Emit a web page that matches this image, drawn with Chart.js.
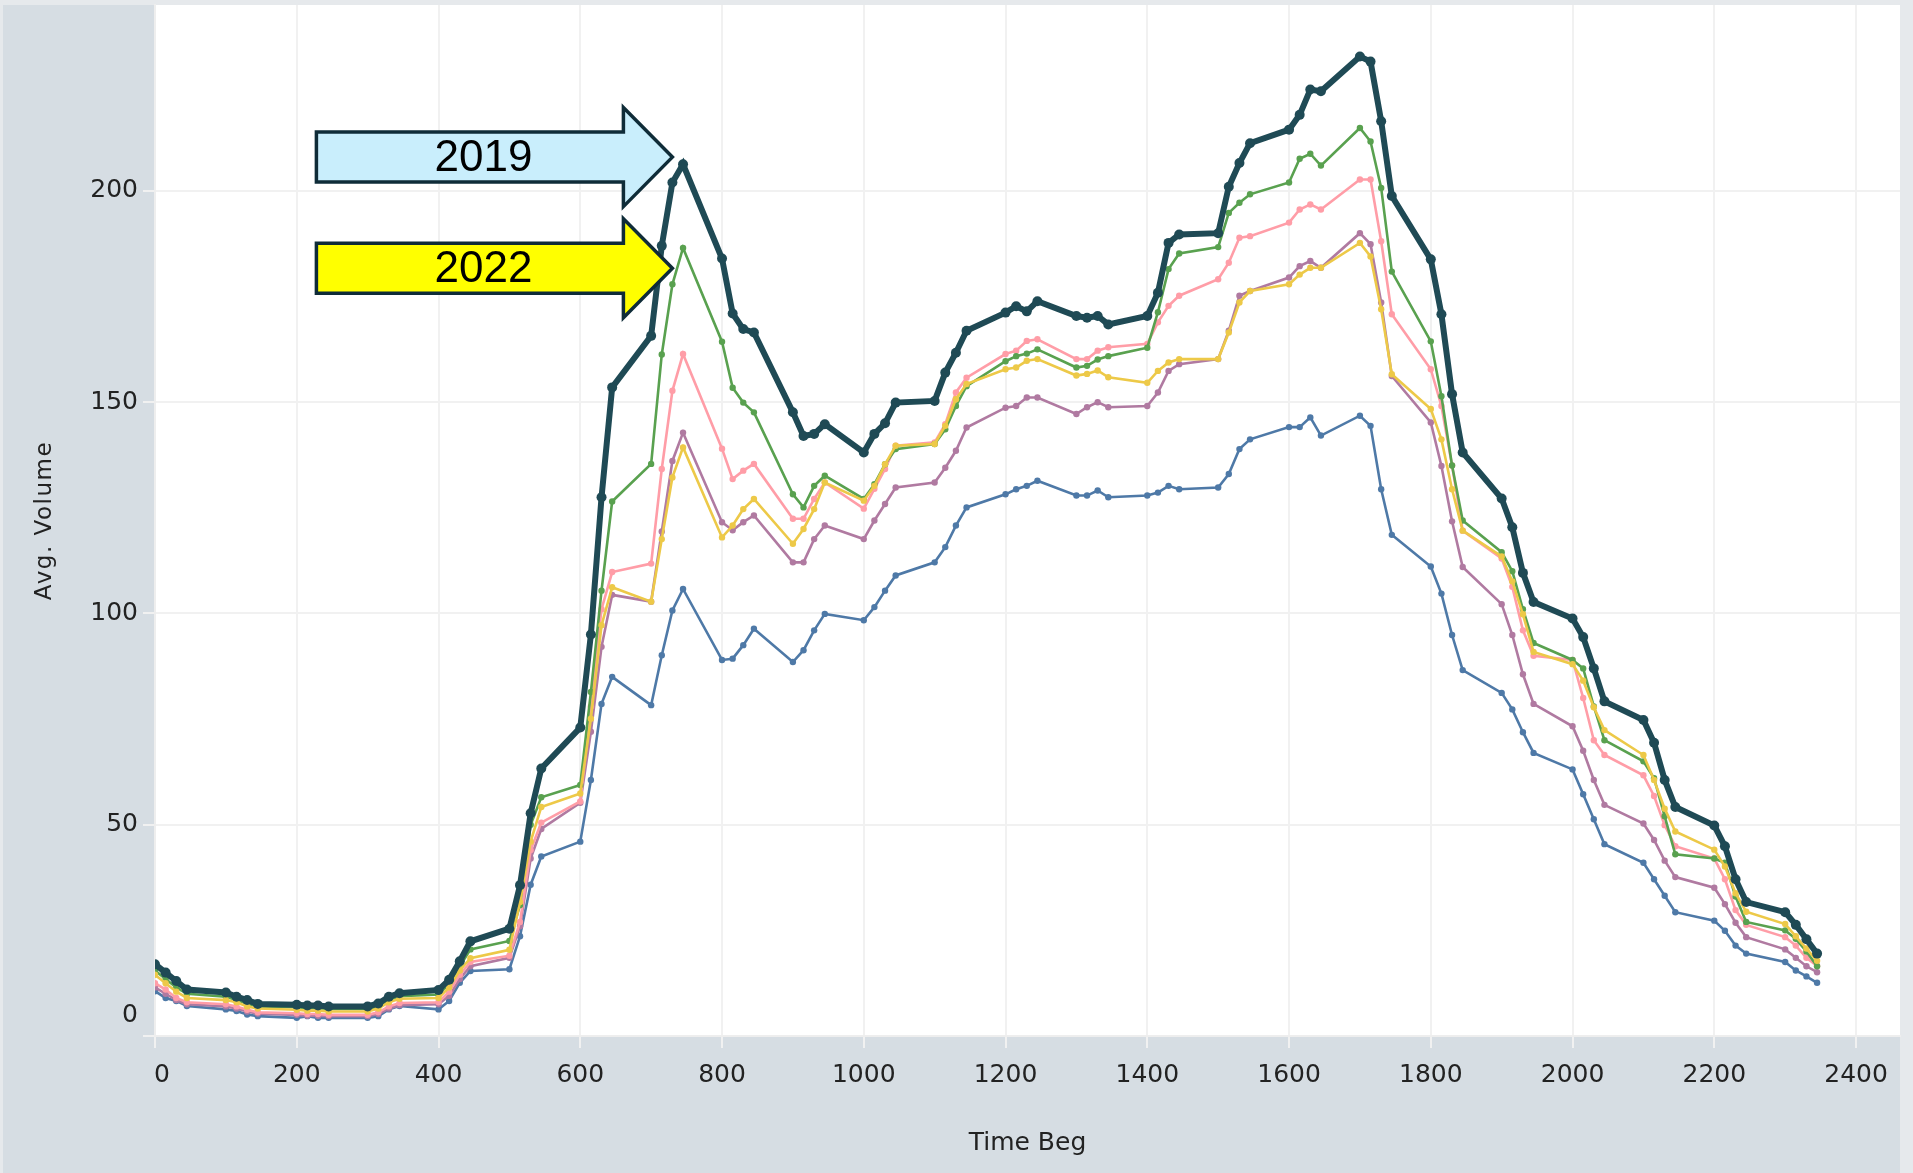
<!DOCTYPE html>
<html>
<head>
<meta charset="utf-8">
<script src="https://cdn.jsdelivr.net/npm/chart.js@4.4.1/dist/chart.umd.min.js"></script>
<style>
html,body{margin:0;padding:0;background:#d6dde3;overflow:hidden;}
#wrap{width:1913px;height:1173px;position:relative;}
canvas{display:block;}
</style>
</head>
<body>
<div id="wrap"><canvas id="c" width="1913" height="1173"></canvas></div>
<script>
// ---- data ----
const timeBeg = [0,15,30,45, 100,115,130,145, 200,215,230,245, 300,315,330,345, 400,415,430,445, 500,515,530,545,
  600,615,630,645, 700,715,730,745, 800,815,830,845, 900,915,930,945, 1000,1015,1030,1045, 1100,1115,1130,1145,
  1200,1215,1230,1245, 1300,1315,1330,1345, 1400,1415,1430,1445, 1500,1515,1530,1545, 1600,1615,1630,1645, 1700,1715,1730,1745,
  1800,1815,1830,1845, 1900,1915,1930,1945, 2000,2015,2030,2045, 2100,2115,2130,2145, 2200,2215,2230,2245, 2300,2315,2330,2345];

const vol2019 = [17,15,13,11, 10.3,9.3,8.5,7.6, 7.4,7.2,7.2,7.0, 7.0,7.7,9.3,10.1, 10.9,13.3,17.7,22.4, 25.4,35.7,52.7,63.3,
  73,95,127.5,153.5, 165.7,187,202,206.3, 184,171,167.3,166.5, 147.6,142,142.5,144.8, 138.1,142.5,145,149.9, 150.3,157,161.7,166.9,
  171.2,172.7,171.5,173.9, 170.4,170,170.4,168.4, 170.4,175.9,187.7,189.7, 190,201,206.6,211.3, 214.5,218,224,223.6, 231.8,230.6,216.5,198.8,
  183.8,170.8,151.9,138.1, 127.2,120.4,109.6,102.7, 98.8,94.4,87,79.2, 74.8,69.4,60.6,54.2, 49.8,44.9,37.1,31.7, 29.3,26.3,22.9,19.5];

const vol2022 = [15.5,13.5,11.5,10, 9.3,8.5,7.7,7, 6.8,6.6,6.6,6.4, 6.4,7,8.6,9.4, 9.8,12.4,16.5,20.5, 22.5,31,50,56.5,
  59.4,81.4,105.4,126.5, 135.4,161.3,177.9,186.5, 164.3,153.4,149.9,147.6, 128.2,125.1,130.2,132.6, 127.1,130.6,135.3,138.9, 140.1,143.6,149.1,153.8,
  159.7,160.9,161.5,162.5, 158.2,158.6,160.1,160.9, 162.9,171.3,181.5,185.2, 186.7,194.8,197.2,199.2, 202,207.6,208.8,206, 214.9,211.7,200.7,180.9,
  164.4,151.4,135,122, 114.5,110,101,93, 89,87,78,70, 65,61,52,43, 42,41,33,27, 25,23,20,16.5];

const volPink = [12.5,11,9,8, 7.5,7,6.2,5.6, 5.4,5.2,5.2,5, 5,5.6,7,7.8, 8,10.5,14.5,17.5, 19,27,44,50.5,
  55.5,78,101,109.8, 111.8,134.2,152.7,161.4, 139,131.8,133.8,135.4, 122.4,122.4,127.1,131, 124.8,129.5,134.2,139.7, 140.5,144.8,152.3,155.8,
  161.4,162.2,164.5,164.9, 160.2,160.2,162.2,163, 163.8,168.9,172.8,175.2, 179.1,183,188.9,189.3, 192.5,195.6,196.8,195.6, 202.7,202.7,188.1,170.8,
  157.8,149.1,135,119.6, 113,106.3,96,90, 89,80,70,66.5, 61.7,56.8,49.9,44.9, 42,37.1,29.8,26.3, 23.4,21.4,18.5,16.6];

const volYellow = [14.5,12.5,10.5,9, 8.5,8,7,6.5, 6.2,6,6,5.8, 5.8,6.5,8,8.8, 9,11.5,15.5,18.4, 20.4,31.7,46,54.2,
  57.4,75.1,97.2,106.2, 102.8,117.6,132.2,139.3, 118,120.8,124.7,127.1, 116.5,120,124.7,131, 126.7,130.2,135.3,139.7, 140.1,144.4,150.7,154.3,
  157.8,158.2,159.8,160.2, 156.3,156.7,157.5,155.9, 154.6,157.4,159.4,160.2, 160.2,166.5,173.6,176.3, 177.9,180.2,181.8,181.8, 187.7,184.5,172,156.6,
  148.4,141.2,129.4,119.6, 113.5,107.6,99.8,90.9, 88,84.1,77.8,72.4, 66.5,60.6,53.8,48.4, 44.1,40.1,33.8,29.4, 26.5,23.6,20.7,17.8];

const volPurple = [11.5,10,8.5,7.5, 7,6.5,5.8,5.3, 5,4.8,4.8,4.7, 4.7,5.2,6.5,7.3, 7.5,9.5,13.5,16.5, 18.5,26,42,49,
  55.2,72,92.1,104.4, 102.8,119.4,136.1,142.8, 121.6,119.7,121.6,123.2, 112.1,112.1,117.6,120.8, 117.6,122,125.9,129.8, 131,134.5,138.5,144,
  148.7,149.1,151.1,151.1, 147.2,148.8,150,148.8, 149.1,152.3,157.4,159, 160.2,166.9,175.2,176.3, 179.5,182.2,183.4,181.8, 190,187.4,173.6,156.2,
  145.2,134.9,121.8,111, 102.2,94.9,85.6,78.6, 73.3,67.5,60.6,54.7, 50.3,46.4,41.5,37.6, 35.1,31.2,26.8,23.4, 20.5,18.5,16.5,15.1];

const volBlue = [10.6,9,8.3,7.1, 6.3,5.9,5.1,4.7, 4.3,4.7,4.3,4.3, 4.3,4.7,6.3,7.1, 6.3,8.3,12.6,15.4, 15.8,23.6,35.8,42.5,
  46,60.6,78.6,85, 78.3,90.1,100.7,105.8, 89,89.3,92.5,96.4, 88.5,91.3,96,99.9, 98.4,101.5,105.4,109, 112.1,115.7,120.8,125.1,
  128.2,129.4,130.2,131.4, 127.9,127.9,129.1,127.5, 127.9,128.6,130.2,129.4, 129.8,133,138.9,141.2, 144.1,144.1,146.4,142.1, 146.8,144.4,129.4,118.6,
  111.1,104.7,94.9,86.6, 81.2,77.3,71.9,67, 63.1,57.2,51.3,45.4, 41,37.1,33.2,29.3, 27.3,24.9,21.4,19.5, 17.5,15.5,14.1,12.6];

const xTickValues = [0,200,400,600,800,1000,1200,1400,1600,1800,2000,2200,2400];
const yTickValues = [0,50,100,150,200];
const xTitle = 'Time Beg';
const yTitle = 'Avg. Volume';
const arrowLabels = ['2019','2022'];

// ---- chart ----
const pts = arr => arr.map((v,i)=>({x: timeBeg[i], y: v}));
function ds(label, arr, color, lw, pr){
  return {label, data: pts(arr), borderColor: color, backgroundColor: color,
    pointBackgroundColor: color, pointBorderWidth: 0, borderWidth: lw, pointRadius: pr,
    pointHoverRadius: pr, tension: 0, fill: false};
}

const TICK_FONT = {family: 'DejaVu Sans', size: 25};
const TEXT_COLOR = '#222';

const bgPlugin = {
  id: 'bg',
  beforeDraw(chart){
    const {ctx, width, height, chartArea: a} = chart;
    ctx.save();
    ctx.fillStyle = '#d6dde3';
    ctx.fillRect(0,0,width,height);
    ctx.fillStyle = '#e6e9ec';
    ctx.fillRect(0,0,width,5);
    ctx.fillRect(0,0,3,height);
    ctx.fillRect(a.right,0,width-a.right,height);
    ctx.fillStyle = '#ffffff';
    ctx.fillRect(a.left, a.top, a.right-a.left, a.bottom-a.top);
    ctx.restore();
  }
};

const annoPlugin = {
  id: 'anno',
  afterDraw(chart){
    const {ctx, chartArea: a} = chart;
    const xs = chart.scales.x, ys = chart.scales.y;
    ctx.save();
    ctx.font = '25px "DejaVu Sans"';
    ctx.fillStyle = TEXT_COLOR;
    // edge labels nudged inward, as in the original
    ctx.textAlign = 'right';
    ctx.textBaseline = 'middle';
    ctx.fillText(String(yTickValues[0]), ys.right - 12 - 5, ys.getPixelForValue(yTickValues[0]) - 21);
    ctx.textAlign = 'center';
    ctx.fillText(String(xTickValues[0]), xs.getPixelForValue(xTickValues[0]) + 7, xs.top + 12 + 12 + 15);
    // y axis title with slightly open letter spacing
    ctx.font = '23px "DejaVu Sans"';
    try { ctx.letterSpacing = '1.5px'; } catch(e) {}
    ctx.translate(45, (a.top + a.bottom) / 2);
    ctx.rotate(-Math.PI / 2);
    ctx.textAlign = 'center';
    ctx.textBaseline = 'middle';
    ctx.fillText(yTitle, 0, 0);
    ctx.restore();

    const tips = [
      {label: arrowLabels[0], x: 730, y: 208, fill: '#c9eefc'},
      {label: arrowLabels[1], x: 730, y: 181.7, fill: '#ffff00'}
    ];
    const L = 356, head = 49, bh = 25, hh = 49.5;
    tips.forEach(t => {
      const tx = xs.getPixelForValue(t.x), ty = ys.getPixelForValue(t.y);
      ctx.save();
      ctx.beginPath();
      ctx.moveTo(tx-L, ty-bh);
      ctx.lineTo(tx-head, ty-bh);
      ctx.lineTo(tx-head, ty-hh);
      ctx.lineTo(tx, ty);
      ctx.lineTo(tx-head, ty+hh);
      ctx.lineTo(tx-head, ty+bh);
      ctx.lineTo(tx-L, ty+bh);
      ctx.closePath();
      ctx.fillStyle = t.fill;
      ctx.fill();
      ctx.lineWidth = 3.5;
      ctx.lineJoin = 'miter';
      ctx.strokeStyle = '#0f2c38';
      ctx.stroke();
      ctx.fillStyle = '#000';
      ctx.font = '44px "Liberation Sans", Arial, sans-serif';
      ctx.textAlign = 'center';
      ctx.textBaseline = 'middle';
      ctx.fillText(t.label, tx-189, ty+2);
      ctx.restore();
    });
  }
};

new Chart(document.getElementById('c'), {
  type: 'line',
  data: {
    datasets: [
      ds('2019', vol2019, '#1f4a55', 6, 5),
      ds('Series Yellow', volYellow, '#edc948', 2.6, 3.2),
      ds('2022', vol2022, '#59a14f', 2.6, 3.2),
      ds('Series Pink', volPink, '#ff9da7', 2.6, 3.2),
      ds('Series Purple', volPurple, '#b07aa1', 2.6, 3.2),
      ds('Series Blue', volBlue, '#4e79a7', 2.6, 3.2)
    ]
  },
  options: {
    responsive: false,
    animation: false,
    devicePixelRatio: 1,
    layout: {padding: {top: 5, right: 13, left: 0, bottom: 0}},
    plugins: {legend: {display: false}, tooltip: {enabled: false}},
    scales: {
      x: {
        type: 'linear', min: 0, max: 2462,
        afterBuildTicks: s => { s.ticks = xTickValues.map(v => ({value: v})); },
        afterFit: s => { s.height = 137; s.paddingLeft = 0; s.paddingRight = 0; },
        grid: {color: '#f1f1f1', lineWidth: 2, tickLength: 12, drawTicks: true},
        border: {display: true, color: '#eeeeee', width: 2},
        ticks: {font: TICK_FONT, color: TEXT_COLOR, padding: 12, maxRotation: 0, autoSkip: false,
          callback: v => (v === xTickValues[0] ? '' : String(v))},
        title: {display: true, text: xTitle, font: {family: 'DejaVu Sans', size: 25}, color: TEXT_COLOR, padding: {top: 0, bottom: 15}}
      },
      y: {
        type: 'linear', min: 0, max: 244,
        afterBuildTicks: s => { s.ticks = yTickValues.map(v => ({value: v})); },
        afterFit: s => { s.width = 155; s.paddingTop = 0; s.paddingBottom = 0; },
        grid: {color: '#f1f1f1', lineWidth: 2, tickLength: 12},
        border: {display: true, color: '#eeeeee', width: 2},
        ticks: {font: TICK_FONT, color: TEXT_COLOR, padding: 5,
          callback: v => (v === yTickValues[0] ? '' : String(v))},
        title: {display: false}
      }
    }
  },
  plugins: [bgPlugin, annoPlugin]
});
</script>
</body>
</html>
